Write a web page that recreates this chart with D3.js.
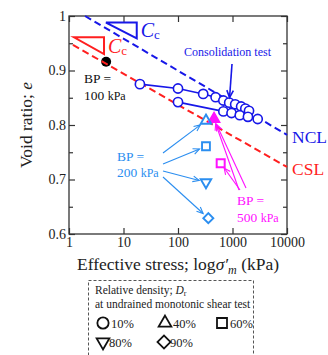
<!DOCTYPE html>
<html>
<head>
<meta charset="utf-8">
<script src="https://cdn.jsdelivr.net/npm/d3@7"></script>
<style>
  html, body { margin: 0; padding: 0; background: #fff; }
  svg { display: block; }
  svg text { font-family: "Liberation Serif", "Times New Roman", Times, "DejaVu Serif", serif; }
</style>
</head>
<body>
<svg id="chart" width="328" height="355"></svg>
<script>
// ---- data ----
// consolidation tests (mean effective stress kPa, void ratio)
const consolA_p = [20, 100, 290, 490, 680, 870, 1120, 1440, 1720, 2010];
const consolA_e = [0.875, 0.867, 0.857, 0.851, 0.845, 0.841, 0.838, 0.834, 0.830, 0.826];
const consolB_p = [100, 680, 960, 1360, 1920, 2900];
const consolB_e = [0.842, 0.825, 0.822, 0.818, 0.815, 0.811];

// normal consolidation line and critical state line end points
const ncl_p = [1.97, 10000];
const ncl_e = [1.0, 0.782];
const csl_p = [1.18, 10000];
const csl_e = [0.947, 0.723];

// back pressure 100 kPa state
const bp100_p = [4.8];
const bp100_e = [0.916];

// undrained monotonic shear test states, BP = 200 kPa
const bp200_dr = [40, 60, 80, 90];
const bp200_p = [326, 326, 326, 360];
const bp200_e = [0.808, 0.761, 0.695, 0.629];

// BP = 500 kPa
const bp500_dr = [40, 60];
const bp500_p = [458, 607];
const bp500_e = [0.811, 0.730];

// slope triangles (Cc): [left p, right p, top e, bottom e]
const ccBlue = [4.77, 17.5, 0.988, 0.959];
const ccRed = [1.235, 4.39, 0.961, 0.930];

// axis ticks
const xTicks = [1, 10, 100, 1000, 10000];
const yTicks = [0.6, 0.7, 0.8, 0.9, 1.0];
const yMinor = [0.65, 0.75, 0.85, 0.95];

// legend entries
const legendDr = ["10%", "40%", "60%", "80%", "90%"];

// ---- layout ----
const FONT = "'Liberation Serif', 'Times New Roman', Times, 'DejaVu Serif', serif";
const svg = d3.select("#chart").attr("font-family", FONT);
const L = 69, R = 287, T = 16, B = 234;
const x = d3.scaleLog().domain([1, 10000]).range([L, R]);
const y = d3.scaleLinear().domain([0.6, 1.0]).range([B, T]);

const BLUE = "#1717e8", RED = "#ff1f1f", LBLUE = "#2b8ef0", MAG = "#ff10ff", INK = "#222";

// symbol helpers
const shapeOf = {
  "10%": d3.symbolCircle, "40%": d3.symbolTriangle, "60%": d3.symbolSquare,
  "80%": d3.symbolTriangle, "90%": d3.symbolSquare
};
const rotOf = { "10%": 0, "40%": 0, "60%": 0, "80%": 180, "90%": 45 };
function marker(g, dr, cx, cy, size, stroke, fill, sw) {
  const key = dr + "%";
  g.append("path")
    .attr("d", d3.symbol().type(shapeOf[key]).size(size)())
    .attr("transform", `translate(${cx},${cy}) rotate(${rotOf[key]})`)
    .attr("fill", fill).attr("stroke", stroke).attr("stroke-width", sw);
}
function arrow(g, x1, y1, x2, y2, color, w, head) {
  g.append("line").attr("x1", x1).attr("y1", y1).attr("x2", x2).attr("y2", y2)
    .attr("stroke", color).attr("stroke-width", w);
  const a = Math.atan2(y2 - y1, x2 - x1), h = head || 7, s = 0.42;
  const p1 = [x2 - h * Math.cos(a - s), y2 - h * Math.sin(a - s)];
  const p2 = [x2 - h * Math.cos(a + s), y2 - h * Math.sin(a + s)];
  g.append("path").attr("d", `M${p1}L${x2},${y2}L${p2}`)
    .attr("fill", "none").attr("stroke", color).attr("stroke-width", w);
}
// point just short of a target, along the direction from a start point
function shortOf(x1, y1, tx, ty, gap) {
  const dx = tx - x1, dy = ty - y1, d = Math.hypot(dx, dy);
  return [tx - dx / d * gap, ty - dy / d * gap];
}

// ---- axes ----
const fmtY = d => (d === 1 ? "1" : d.toFixed(1));
const axG = svg.append("g");

axG.append("g").attr("transform", `translate(${L},0)`)
  .call(d3.axisLeft(y).tickValues(yTicks).tickFormat(fmtY).tickSize(-6).tickPadding(3));
axG.append("g").attr("transform", `translate(${L},0)`)
  .call(d3.axisLeft(y).tickValues(yMinor).tickFormat("").tickSize(-4));
axG.append("g").attr("transform", `translate(${R},0)`)
  .call(d3.axisRight(y).tickValues(yTicks).tickFormat("").tickSize(-6));
axG.append("g").attr("transform", `translate(${R},0)`)
  .call(d3.axisRight(y).tickValues(yMinor).tickFormat("").tickSize(-4));
axG.append("g").attr("transform", `translate(0,${B})`)
  .call(d3.axisBottom(x).tickValues(xTicks).tickFormat(d3.format("d")).tickSize(-6).tickPadding(3));
axG.append("g").attr("transform", `translate(0,${T})`)
  .call(d3.axisTop(x).tickValues(xTicks).tickFormat("").tickSize(-6));
axG.selectAll("g").attr("font-family", FONT).attr("font-size", 14);
axG.selectAll(".domain").remove();
axG.selectAll(".tick line").attr("stroke", "#333").attr("stroke-width", 1.2);
axG.selectAll(".tick text").attr("fill", INK);

svg.append("rect").attr("x", L).attr("y", T).attr("width", R - L).attr("height", B - T)
  .attr("fill", "none").attr("stroke", "#333").attr("stroke-width", 1.3);

// axis titles
svg.append("text").attr("transform", `translate(32,${(T + B) / 2}) rotate(-90)`)
  .attr("text-anchor", "middle").attr("font-size", 17.5).attr("fill", INK)
  .call(t => {
    t.append("tspan").text("Void ratio; ");
    t.append("tspan").attr("font-style", "italic").text("e");
  });
svg.append("text").attr("x", (L + R) / 2).attr("y", 270)
  .attr("text-anchor", "middle").attr("font-size", 17.5).attr("fill", INK)
  .call(t => {
    t.append("tspan").text("Effective stress; log");
    t.append("tspan").attr("font-style", "italic").text("σ′");
    t.append("tspan").attr("font-style", "italic").attr("font-size", 12).attr("dy", 4).text("m");
    t.append("tspan").attr("dy", -4).text(" (kPa)");
  });

// ---- plot content ----
const plot = svg.append("g");

// BP 100 kPa state (drawn under the CSL)
plot.selectAll(".bp100").data(bp100_p).join("circle")
  .attr("cx", (d, i) => x(d)).attr("cy", (d, i) => y(bp100_e[i])).attr("r", 5)
  .attr("fill", "#000");

// NCL and CSL
const line = d3.line().x(d => x(d[0])).y(d => y(d[1]));
plot.append("path").attr("d", line(d3.zip(ncl_p, ncl_e)))
  .attr("fill", "none").attr("stroke", BLUE).attr("stroke-width", 2).attr("stroke-dasharray", "7,4");
plot.append("path").attr("d", line(d3.zip(csl_p, csl_e)))
  .attr("fill", "none").attr("stroke", RED).attr("stroke-width", 2).attr("stroke-dasharray", "7,4");

// consolidation tests
[[consolA_p, consolA_e], [consolB_p, consolB_e]].forEach(([ps, es]) => {
  const pts = d3.zip(ps, es);
  plot.append("path").attr("d", line(pts)).attr("fill", "none")
    .attr("stroke", BLUE).attr("stroke-width", 1.6);
  plot.append("g").selectAll("circle").data(pts).join("circle")
    .attr("cx", d => x(d[0])).attr("cy", d => y(d[1])).attr("r", 4.6)
    .attr("fill", "#fff").attr("stroke", BLUE).attr("stroke-width", 1.6);
});

// Cc slope triangles
[[ccBlue, BLUE], [ccRed, RED]].forEach(([c, col]) => {
  const [p0, p1, e0, e1] = c;
  plot.append("path")
    .attr("d", `M${x(p0)},${y(e0)}L${x(p1)},${y(e0)}L${x(p1)},${y(e1)}Z`)
    .attr("fill", "none").attr("stroke", col).attr("stroke-width", 2);
  plot.append("text").attr("x", x(p1) + 4).attr("y", y(e1) - 1)
    .attr("fill", col).attr("font-size", 20)
    .call(t => {
      t.append("tspan").attr("font-style", "italic").text("C");
      t.append("tspan").attr("font-size", 13).attr("dy", 2).text("c");
    });
});

// BP = 500 kPa states
bp500_dr.forEach((dr, i) => {
  if (dr === 40) marker(plot, dr, x(bp500_p[i]), y(bp500_e[i]), 55, MAG, MAG, 1.5);
  else marker(plot, dr, x(bp500_p[i]), y(bp500_e[i]), 64, MAG, "#fff", 2);
});
// BP = 200 kPa states
bp200_dr.forEach((dr, i) => {
  const sz = dr === 90 ? 50 : (dr === 60 ? 62 : 48);
  marker(plot, dr, x(bp200_p[i]), y(bp200_e[i]), sz, LBLUE, "none", 1.9);
});

// ---- annotations ----
const ann = svg.append("g");

// Consolidation test
ann.append("text").attr("x", 184).attr("y", 56).attr("font-size", 12).attr("fill", BLUE)
  .text("Consolidation test");
{
  const tx = x(consolA_p[5]), ty = y(consolA_e[5]);
  const [ex, ey] = shortOf(232, 64, tx, ty, 5);
  arrow(ann, 232, 64, ex, ey, BLUE, 1.6, 8);
}

// BP = 100 kPa
ann.append("text").attr("x", 84).attr("y", 83).attr("font-size", 13.5).attr("fill", "#111").text("BP =");
ann.append("text").attr("x", 84).attr("y", 100).attr("font-size", 13.5).attr("fill", "#111")
  .call(t => { t.append("tspan").text("100 "); t.append("tspan").attr("font-size", 12).text("kPa"); });

// BP = 200 kPa
ann.append("text").attr("x", 117).attr("y", 161).attr("font-size", 13.5).attr("fill", LBLUE).text("BP =");
ann.append("text").attr("x", 117).attr("y", 177).attr("font-size", 13.5).attr("fill", LBLUE)
  .call(t => { t.append("tspan").text("200 "); t.append("tspan").attr("font-size", 12).text("kPa"); });
const bp200Start = [[163, 153], [163, 164], [163, 171], [163, 177]];
bp200_dr.forEach((dr, i) => {
  const [sx, sy] = bp200Start[i];
  const [ex, ey] = shortOf(sx, sy, x(bp200_p[i]), y(bp200_e[i]), 7);
  arrow(ann, sx, sy, ex, ey, LBLUE, 1.1, 7);
});

// BP = 500 kPa
ann.append("text").attr("x", 237).attr("y", 205).attr("font-size", 13.5).attr("fill", MAG).text("BP =");
ann.append("text").attr("x", 237).attr("y", 222).attr("font-size", 13.5).attr("fill", MAG)
  .call(t => { t.append("tspan").text("500 "); t.append("tspan").attr("font-size", 12).text("kPa"); });
[[239, 190, 0, 5], [246, 188, 0, 6], [240, 190, 1, 6]].forEach(([sx, sy, i, gap]) => {
  const [ex, ey] = shortOf(sx, sy, x(bp500_p[i]), y(bp500_e[i]), gap);
  arrow(ann, sx, sy, ex, ey, MAG, 1.1, 7);
});

// line labels
ann.append("text").attr("x", 292).attr("y", 143).attr("font-size", 17.5).attr("fill", BLUE).text("NCL");
ann.append("text").attr("x", 292).attr("y", 175).attr("font-size", 17.5).attr("fill", RED).text("CSL");

// ---- legend ----
const leg = svg.append("g");
leg.append("rect").attr("x", 88.5).attr("y", 280.5).attr("width", 165).attr("height", 90)
  .attr("fill", "none").attr("stroke", "#555").attr("stroke-width", 1).attr("stroke-dasharray", "3,2");
leg.append("text").attr("x", 95).attr("y", 294).attr("font-size", 11.5).attr("fill", INK)
  .call(t => {
    t.append("tspan").text("Relative density; ");
    t.append("tspan").attr("font-style", "italic").text("D");
    t.append("tspan").attr("font-size", 8).attr("dy", 2).text("r");
  });
leg.append("text").attr("x", 95).attr("y", 308).attr("font-size", 11.5).attr("fill", INK)
  .text("at undrained monotonic shear test");
const legPos = [[103, 323], [165, 323], [222, 323], [103, 342], [164, 342]];
const legSize = { "10%": 100, "40%": 70, "60%": 100, "80%": 70, "90%": 85 };
legendDr.forEach((lab, i) => {
  const [cx, cy] = legPos[i];
  leg.append("path")
    .attr("d", d3.symbol().type(shapeOf[lab]).size(legSize[lab])())
    .attr("transform", `translate(${cx},${cy}) rotate(${rotOf[lab]})`)
    .attr("fill", "none").attr("stroke", "#111").attr("stroke-width", 1.8);
  leg.append("text").attr("x", cx + (lab === "80%" || lab === "90%" ? 6 : 8)).attr("y", cy + 4.5)
    .attr("font-size", 12.5).attr("fill", INK).text(lab);
});
</script>
</body>
</html>
